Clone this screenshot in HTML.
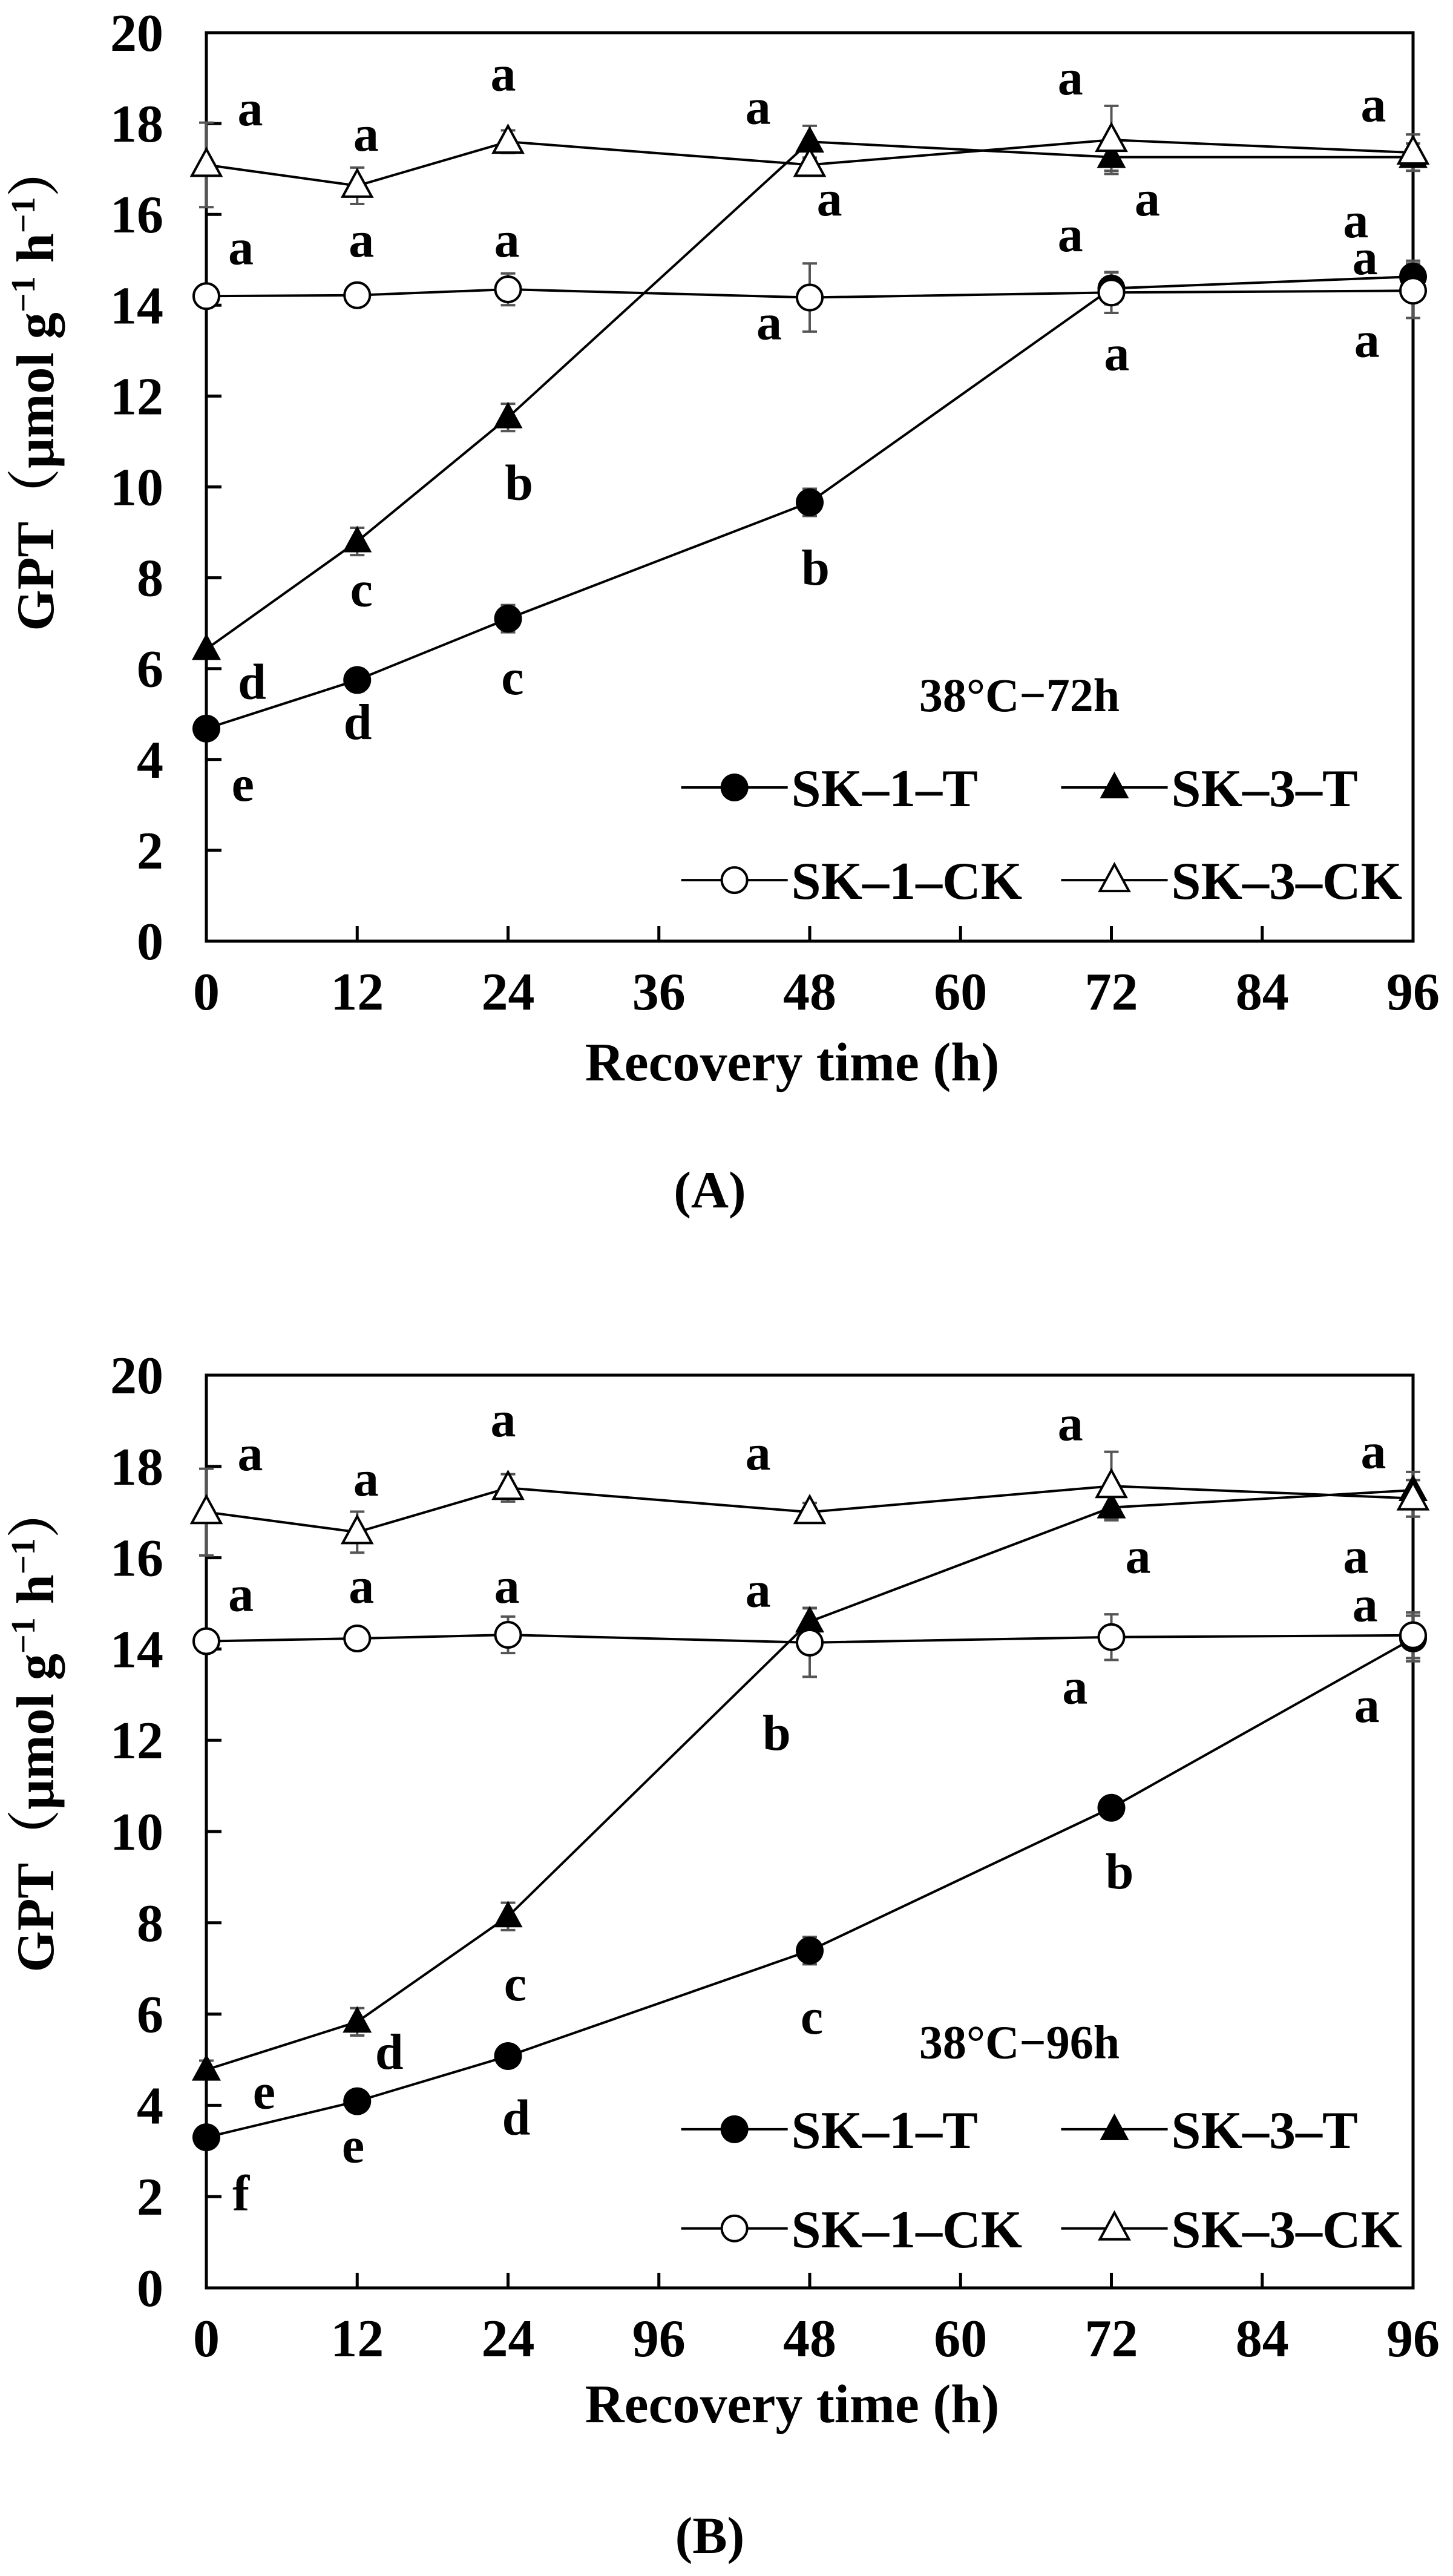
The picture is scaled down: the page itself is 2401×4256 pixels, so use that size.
<!DOCTYPE html>
<html><head><meta charset="utf-8"><style>html,body{margin:0;padding:0;background:#fff}svg{display:block}</style></head>
<body>
<svg id="s" xmlns="http://www.w3.org/2000/svg" width="2401" height="4256" viewBox="0 0 2401 4256" font-family="'Liberation Serif','Noto Serif CJK SC',serif" font-weight="bold"></svg>
<script>
var S=document.getElementById('s'),h='';
function chart(o){
 var X0=341,X1=2335,Y0=o.y0,Y20=o.y20;
 function X(t){return X0+(X1-X0)*t/96}
 function Y(v){return Y0+(Y20-Y0)*v/20}
 var T=[0,12,24,48,72,96];
 h+='<rect x="'+X0+'" y="'+Y20+'" width="'+(X1-X0)+'" height="'+(Y0-Y20)+'" fill="none" stroke="#000" stroke-width="5"/>';
 for(var i=0;i<=8;i++){var x=X(i*12);h+='<line x1="'+x+'" y1="'+Y0+'" x2="'+x+'" y2="'+(Y0-25)+'" stroke="#000" stroke-width="5"/>';
  h+='<text x="'+x+'" y="'+(Y0+113)+'" font-size="88" text-anchor="middle">'+o.xl[i]+'</text>';}
 for(var v=0;v<=20;v+=2){var y=Y(v);h+='<line x1="'+X0+'" y1="'+y+'" x2="'+(X0+25)+'" y2="'+y+'" stroke="#000" stroke-width="5"/>';
  h+='<text x="270" y="'+(y+30)+'" font-size="88" text-anchor="end">'+v+'</text>';}
 o.s.forEach(function(se){se.d.forEach(function(v,k){var e=se.e[k];if(!e)return;var x=X(T[k]);
  h+='<g stroke="#555" stroke-width="4"><line x1="'+x+'" y1="'+Y(v-e)+'" x2="'+x+'" y2="'+Y(v+e)+'"/><line x1="'+(x-12)+'" y1="'+Y(v-e)+'" x2="'+(x+12)+'" y2="'+Y(v-e)+'"/><line x1="'+(x-12)+'" y1="'+Y(v+e)+'" x2="'+(x+12)+'" y2="'+Y(v+e)+'"/></g>';});});
 o.s.forEach(function(se){var p=se.d.map(function(v,k){return X(T[k])+','+Y(v)}).join(' ');
  h+='<polyline points="'+p+'" fill="none" stroke="#000" stroke-width="4"/>';
  se.d.forEach(function(v,k){h+=mk(se.m,X(T[k]),Y(v));});});
 o.lab.forEach(function(l){h+='<text x="'+(l[1]/0.653)+'" y="'+(o.ly(l[2])+22)+'" font-size="84" text-anchor="middle">'+l[0]+'</text>';});
 h+='<text x="'+(1100/0.653)+'" y="'+(o.ly(o.ty)+27)+'" font-size="78" text-anchor="middle">'+o.title+'</text>';
 var L=[[1,'SK–1–T',735,o.lg[0]],[3,'SK–3–T',1145,o.lg[0]],[0,'SK–1–CK',735,o.lg[1]],[2,'SK–3–CK',1145,o.lg[1]]];
 L.forEach(function(l){var x1=l[2]/0.653,x2=(l[2]+115)/0.653,y=o.ly(l[3]);
  h+='<line x1="'+x1+'" y1="'+y+'" x2="'+x2+'" y2="'+y+'" stroke="#000" stroke-width="4"/>'+mk(l[0],(x1+x2)/2,y);
  h+='<text x="'+(x2+6)+'" y="'+(y+31)+'" font-size="88">'+l[1]+'</text>';});
 h+='<text x="1309" y="'+o.xt+'" font-size="90" text-anchor="middle">Recovery time (h)</text>';
 h+='<text x="1173" y="'+o.pt+'" font-size="86" text-anchor="middle">('+o.p+')</text>';
 h+='<text transform="translate(88,'+o.yc+') rotate(-90)" font-size="88" text-anchor="middle">GPT（μmol g<tspan baseline-shift="super" font-size="56">−1</tspan> h<tspan baseline-shift="super" font-size="56">−1</tspan>）</text>';
}
function mk(m,x,y){
 if(m==1)return '<circle cx="'+x+'" cy="'+y+'" r="23" fill="#000"/>';
 if(m==0)return '<circle cx="'+x+'" cy="'+y+'" r="21" fill="#fff" stroke="#000" stroke-width="4"/>';
 var p=x+','+(y-26)+' '+(x-24)+','+(y+18)+' '+(x+24)+','+(y+18);
 if(m==3)return '<polygon points="'+p+'" fill="#000"/>';
 return '<polygon points="'+p+'" fill="#fff" stroke="#000" stroke-width="4"/>';
}
var lyA=function(y){return y/0.784},lyB=function(y){return y/0.7626+2200};
chart({y0:1555,y20:54,ly:lyA,title:'38°C−72h',ty:900,lg:[1020,1140],xt:1785,pt:1995,p:'A',yc:640,
 xl:[0,12,24,36,48,60,72,84,96],
 s:[{m:1,d:[4.68,5.75,7.1,9.66,14.37,14.63],e:[0,0.25,0.3,0.3,0.35,0.35]},
    {m:3,d:[6.43,8.8,11.53,17.6,17.26,17.26],e:[0,0.3,0.3,0.35,0.3,0.3]},
    {m:0,d:[14.2,14.22,14.35,14.17,14.28,14.32],e:[0,0,0.35,0.75,0.45,0.6]},
    {m:2,d:[17.09,16.63,17.6,17.09,17.64,17.36],e:[0.93,0.4,0.25,0.15,0.75,0.4]}],
 lab:[['a',270,145],['a',395,178],['a',543,100],['a',818,143],['a',1155,105],['a',1482,140],
  ['a',895,262],['a',1238,262],['a',1463,290],['a',260,325],['a',390,315],['a',547,315],['a',1155,308],['a',1473,338],
  ['a',830,422],['a',1205,462],['a',1475,445],['b',560,630],['b',880,740],['c',390,768],['c',553,882],['d',272,888],['d',386,940],['e',262,1020]]});
chart({y0:3780,y20:2272,ly:lyB,title:'38°C−96h',ty:895,lg:[1005,1130],xt:4002,pt:4218,p:'B',yc:2856,
 xl:[0,12,24,96,48,60,72,84,96],
 s:[{m:1,d:[3.3,4.09,5.08,7.39,10.52,14.23],e:[0,0.15,0.15,0.3,0.15,0.5]},
    {m:3,d:[4.78,5.83,8.14,14.6,17.1,17.48],e:[0.2,0.3,0.3,0.3,0.25,0.4]},
    {m:0,d:[14.17,14.23,14.31,14.14,14.26,14.3],e:[0,0.15,0.4,0.75,0.5,0.5]},
    {m:2,d:[17.0,16.56,17.53,17.0,17.57,17.3],e:[0.95,0.45,0.3,0.2,0.75,0.4]}],
 lab:[['a',270,158],['a',395,190],['a',543,115],['a',818,157],['a',1155,120],['a',1482,155],
  ['a',1228,287],['a',1463,287],['a',260,335],['a',390,325],['a',547,325],['a',818,330],['a',1473,348],
  ['a',1160,452],['a',1475,475],['b',838,510],['b',1208,685],['c',556,826],['c',876,868],['d',420,912],['d',557,995],['e',285,962],['e',381,1030],['f',260,1090]]});
S.innerHTML=h;
</script>
</body></html>
